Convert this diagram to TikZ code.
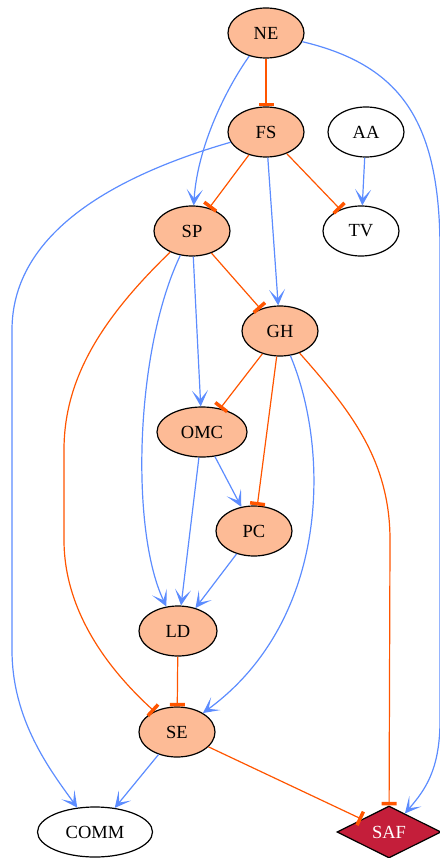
\documentclass[tikz,border=0pt]{standalone}
\usepackage{fontspec}
\setmainfont{Liberation Serif}
\usetikzlibrary{shapes.geometric,arrows.meta}
\definecolor{peach}{RGB}{253,187,150}
\definecolor{inhib}{RGB}{255,85,0}
\definecolor{activ}{RGB}{92,140,255}
\definecolor{safred}{RGB}{196,30,58}
\begin{document}
\begin{tikzpicture}[x=1pt,y=-1pt,
    gene/.style={ellipse,draw=black,line width=1.2pt,fill=peach,inner sep=0pt,
      minimum width=76pt,minimum height=50pt,font=\fontsize{18.5}{22}\selectfont},
    trait/.style={gene,fill=white},
    act/.style={activ,line width=1.2pt,-{Stealth[length=16pt,width=16pt,inset=9pt]}},
    inh/.style={inhib,line width=1.2pt,-{Bar[width=15pt,line width=3.5pt]}}]
  \useasboundingbox (0,0) rectangle (439,858);
  % nodes
  \node [gene] (NE) at (266,33) {NE};
  \node [gene] (FS) at (266,132) {FS};
  \node [trait] (AA) at (366,132) {AA};
  \node [gene] (SP) at (192,231) {SP};
  \node [trait] (TV) at (361,231) {TV};
  \node [gene] (GH) at (280,331) {GH};
  \node [gene,minimum width=90pt] (OMC) at (202,432) {OMC};
  \node [gene] (PC) at (254,531) {PC};
  \node [gene,minimum width=78pt] (LD) at (178,631) {LD};
  \node [gene] (SE) at (177,732) {SE};
  \node [trait,minimum width=115pt] (COMM) at (95,832) {COMM};
  \node [diamond,draw=black,line width=1.2pt,fill=safred,text=white,inner sep=0pt,
    minimum width=104pt,minimum height=52pt,font=\fontsize{18.5}{22}\selectfont]
    (SAF) at (389,832) {SAF};
  % activating edges
  \draw [act] (NE) .. controls (232,80) and (198,140) .. (SP);
  \draw [act] (NE) .. controls (400,65) and (440,120) .. (440,250)
    -- (440,720) .. controls (440,770) and (425,790) .. (SAF);
  \draw [act] (FS) .. controls (100,180) and (12,240) .. (12,330)
    -- (12,650) .. controls (12,720) and (50,770) .. (COMM);
  \draw [act] (FS) -- (GH);
  \draw [act] (AA) -- (TV);
  \draw [act] (SP) -- (OMC);
  \draw [act] (SP) .. controls (135,350) and (130,530) .. (LD);
  \draw [act] (GH) .. controls (330,450) and (330,620) .. (SE);
  \draw [act] (OMC) -- (PC);
  \draw [act] (OMC) -- (LD);
  \draw [act] (PC) -- (LD);
  \draw [act] (SE) -- (COMM);
  % inhibiting edges
  \draw [inh] (NE) -- (FS);
  \draw [inh] (FS) -- (SP);
  \draw [inh] (FS) -- (TV);
  \draw [inh] (SP) -- (GH);
  \draw [inh] (SP) .. controls (100,320) and (64,380) .. (64,450)
    -- (64,540) .. controls (64,620) and (120,680) .. (SE);
  \draw [inh] (GH) -- (OMC);
  \draw [inh] (GH) -- (PC);
  \draw [inh] (GH) .. controls (350,410) and (390,460) .. (390,540) -- (SAF);
  \draw [inh] (LD) -- (SE);
  \draw [inh] (SE) -- (SAF);
\end{tikzpicture}
\end{document}
